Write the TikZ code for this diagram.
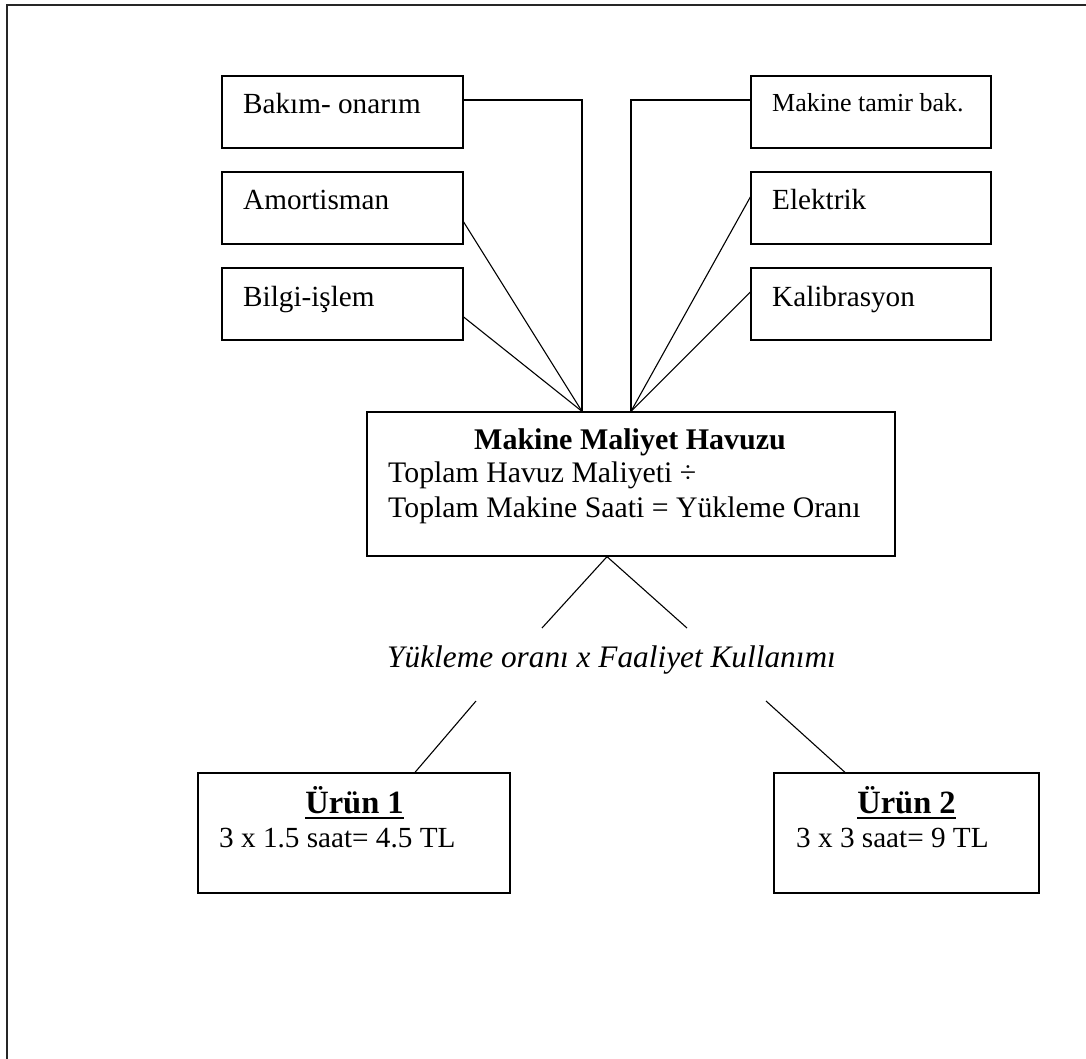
\documentclass[tikz,border=0pt]{standalone}
\usepackage{fontspec}
\setmainfont{Liberation Serif}
\begin{document}
\begin{tikzpicture}[x=1pt,y=-1pt,
  box/.style={draw, line width=1.3pt, inner sep=0pt},
  link/.style={draw, line width=1.1pt},
  lbl/.style={inner sep=0pt, font=\fontsize{29.2}{35}\selectfont},
  poollbl/.style={inner sep=0pt, font=\fontsize{29.8}{36}\selectfont},
  smalllbl/.style={inner sep=0pt, font=\fontsize{26}{31}\selectfont},
  bold/.style={inner sep=0pt, font=\fontsize{30}{36}\selectfont\bfseries},
  prodtitle/.style={inner sep=0pt, font=\fontsize{32.5}{38}\selectfont\bfseries}]
\useasboundingbox (0,0) rectangle (1086,1059);
% page frame
\draw[line width=2pt, black!85] (7,1062) -- (7,5) -- (1090,5);

% cost items, left column
\node[box, minimum width=241pt, minimum height=72pt] (bakim) at (342.5,112) {};
\node[box, minimum width=241pt, minimum height=72pt] (amort) at (342.5,208) {};
\node[box, minimum width=241pt, minimum height=72pt] (bilgi) at (342.5,304) {};
\node[lbl, anchor=base west] (tbakim) at (243,114) {Bakım- onarım};
\node[lbl, anchor=base west] (tamort) at (243,210) {Amortisman};
\node[lbl, anchor=base west] (tbilgi) at (243,306) {Bilgi-işlem};

% cost items, right column
\node[box, minimum width=240pt, minimum height=72pt] (tamir) at (871,112) {};
\node[box, minimum width=240pt, minimum height=72pt] (elek) at (871,208) {};
\node[box, minimum width=240pt, minimum height=72pt] (kalib) at (871,304) {};
\node[smalllbl, anchor=base west] (ttamir) at (772,112) {Makine tamir bak.};
\node[lbl, anchor=base west] (telek) at (772,210) {Elektrik};
\node[lbl, anchor=base west] (tkalib) at (772,306) {Kalibrasyon};

% cost pool
\node[box, minimum width=528pt, minimum height=144pt] (pool) at (631,484) {};
\node[bold, anchor=base] (tpool) at (630,449) {Makine Maliyet Havuzu};
\node[poollbl, anchor=base west] (tpool2) at (388,482) {Toplam Havuz Maliyeti ÷};
\node[poollbl, anchor=base west] (tpool3) at (388,517) {Toplam Makine Saati = Yükleme Oranı};

\coordinate (pinL) at ([xshift=-49pt]pool.north);
\coordinate (pinR) at (pool.north);

% connectors into the pool
\draw[link] ([yshift=12pt]bakim.east) -| (pinL);
\draw[link] ([yshift=-14pt]amort.east) -- (pinL);
\draw[link] ([yshift=-13pt]bilgi.east) -- (pinL);
\draw[link] ([yshift=12pt]tamir.west) -| (pinR);
\draw[link] ([yshift=11pt]elek.west) -- (pinR);
\draw[link] ([yshift=12pt]kalib.west) -- (pinR);

% allocation
\coordinate (apex) at ([xshift=-24pt]pool.south);
\coordinate (splitL) at (542,628);
\coordinate (splitR) at (687,628);
\draw[link] (splitL) -- (apex) -- (splitR);

\node[inner sep=0pt, font=\fontsize{31.3}{37}\selectfont\itshape, anchor=base] (rate) at (611.5,667)
  {Yükleme oranı x Faaliyet Kullanımı};

% products
\node[box, minimum width=312pt, minimum height=120pt] (urun1) at (354,833) {};
\node[box, minimum width=265pt, minimum height=120pt] (urun2) at (906.5,833) {};
\node[prodtitle, anchor=base] (turun1) at (354.5,813) {Ürün 1};
\node[prodtitle, anchor=base] (turun2) at (906.5,813) {Ürün 2};
\draw[line width=2.4pt] ([yshift=-5pt]turun1.base west) -- ([yshift=-5pt]turun1.base east);
\draw[line width=2.4pt] ([yshift=-5pt]turun2.base west) -- ([yshift=-5pt]turun2.base east);
\node[lbl, anchor=base west] (tcalc1) at (219,847) {3 x 1.5 saat= 4.5 TL};
\node[lbl, anchor=base west] (tcalc2) at (796,847) {3 x 3 saat= 9 TL};

\coordinate (dropL) at (476,701);
\coordinate (dropR) at (766,701);
\draw[link] (dropL) -- ([xshift=61pt]urun1.north);
\draw[link] (dropR) -- ([xshift=-61.5pt]urun2.north);
\end{tikzpicture}
\end{document}
